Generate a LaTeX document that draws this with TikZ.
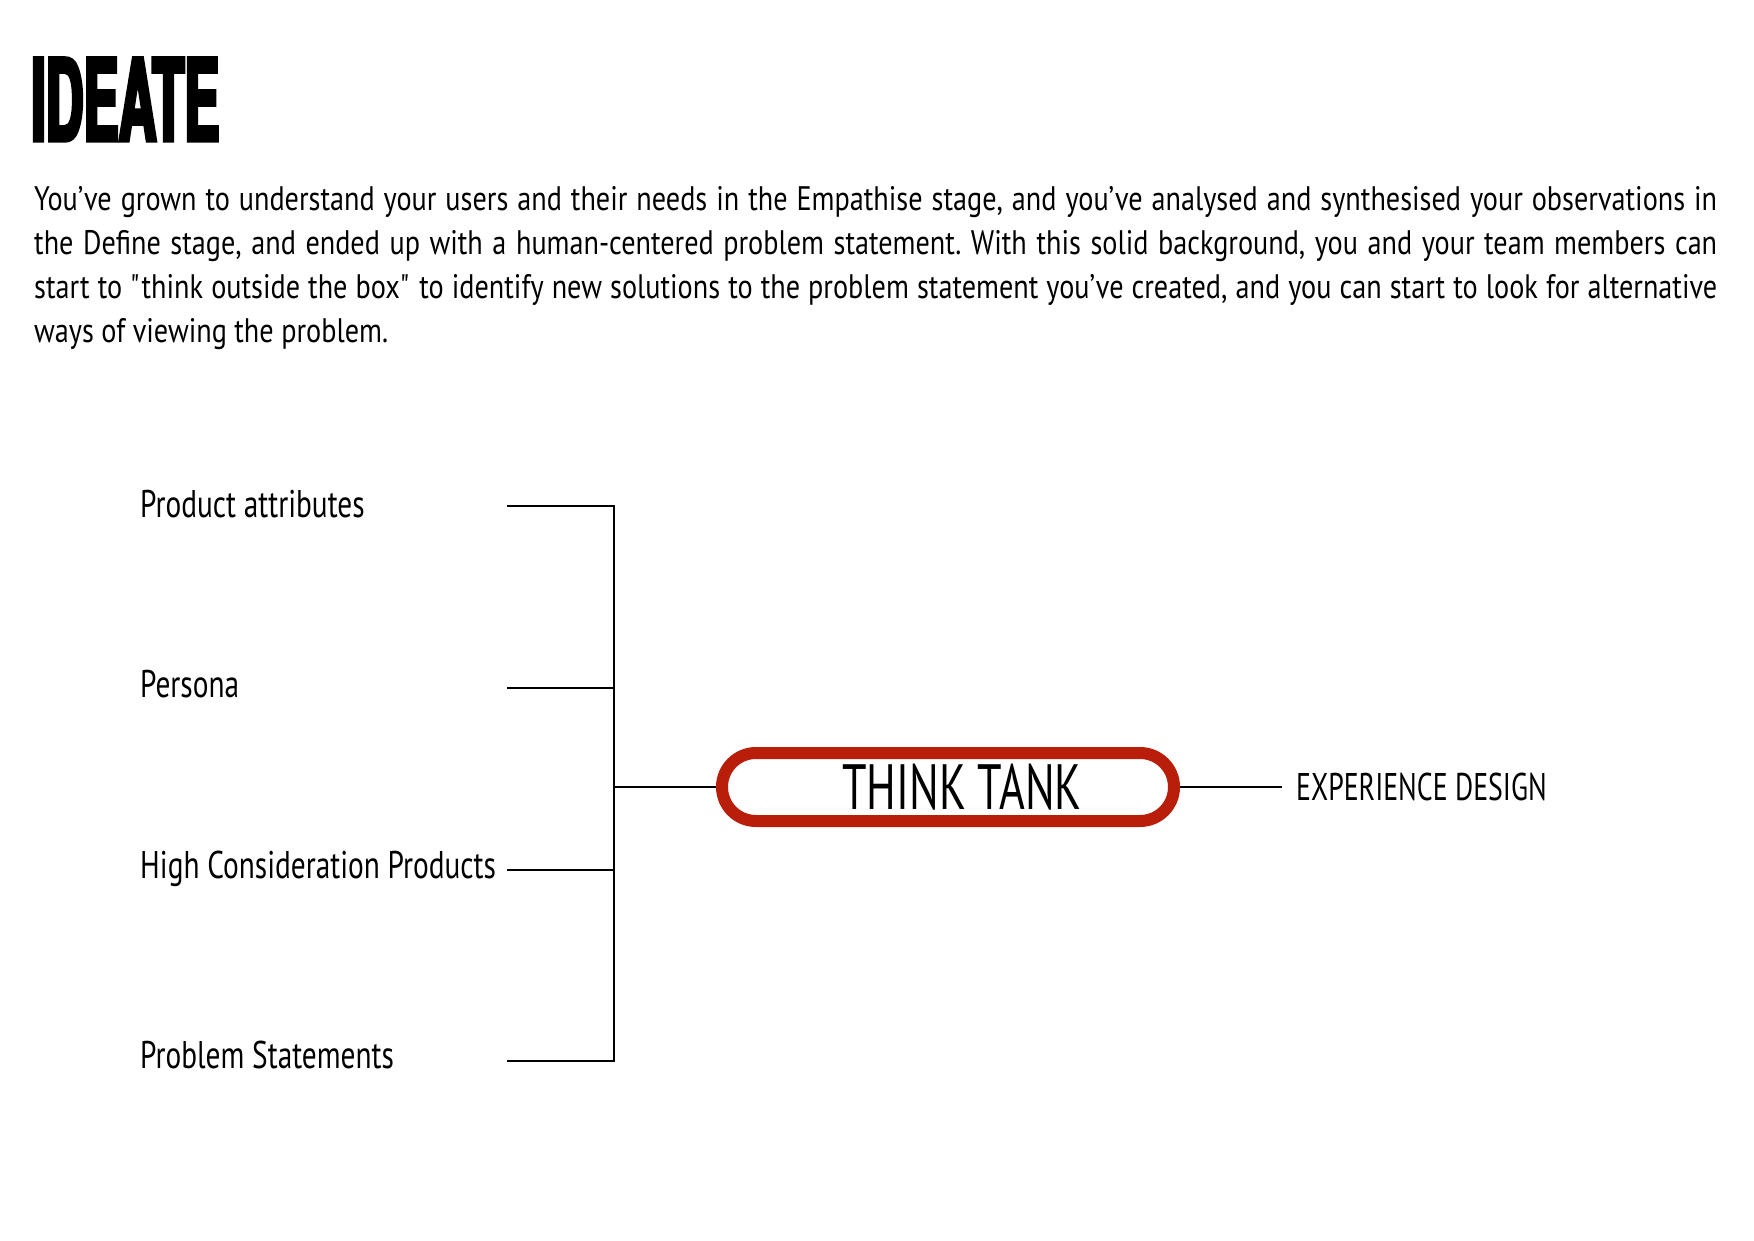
\documentclass[tikz,border=0pt]{standalone}
\usepackage{fontspec}
\setmainfont{PT Sans}[FakeStretch=0.76]
\newfontfamily\bodyfont{PT Sans}[FakeStretch=0.83]
\newfontfamily\tankfont{PT Sans}[FakeStretch=0.69]
\newfontfamily\xdfont{PT Sans}[FakeStretch=0.72]
\newfontfamily\titlefont{texgyreheros-bold.otf}[FakeStretch=0.46,FakeBold=3]
\definecolor{tankred}{RGB}{184,30,10}
\tikzset{
  lbl/.style={inner sep=0pt, anchor=base west, font=\fontsize{38.6}{40}\selectfont},
  wire/.style={draw=black, line width=1.8pt},
  tankbox/.style={draw=tankred, line width=12pt, rounded corners=34pt,
    minimum width=452pt, minimum height=68pt, inner sep=0pt,
    font=\tankfont\fontsize{64}{64}\selectfont}
}
\begin{document}
\begin{tikzpicture}[x=1pt,y=-1pt]
\fill[white] (0,0) rectangle (1754,1241);
\useasboundingbox (0,0) rectangle (1754,1241);

\node[inner sep=0pt, anchor=base west, font=\titlefont\fontsize{114}{114}\selectfont] (title) at (31,141) {IDEATE};

\node[inner sep=0pt, anchor=base west] (intro) at (34,211) {\parbox[t]{1683pt}{\bodyfont\fontsize{34}{44}\selectfont\frenchspacing\tolerance=10000\hyphenpenalty=10000
You’ve grown to understand your users and their needs in the Empathise stage, and you’ve analysed and synthesised your observations in\linebreak
the Define stage, and ended up with a human-centered problem statement. With this solid background, you and your team members can\linebreak
start to \textquotedbl think outside the box\textquotedbl\ to identify new solutions to the problem statement you’ve created, and you can start to look for alternative\linebreak
ways of viewing the problem.}};

\node[lbl] (pa) at (140,517) {Product attributes};
\node[lbl] (pe) at (140,697) {Persona};
\node[lbl] (hc) at (140,878) {High Consideration Products};
\node[lbl] (ps) at (140,1068) {Problem Statements};

\coordinate (pa-tip) at (507,506);
\coordinate (pe-tip) at (507,688);
\coordinate (hc-tip) at (507,870);
\coordinate (ps-tip) at (507,1061);
\coordinate (pa-j) at (614,506);
\coordinate (pe-j) at (614,688);
\coordinate (hc-j) at (614,870);
\coordinate (ps-j) at (614,1061);
\coordinate (mid-j) at (614,787);

\node[tankbox] (tank) at (948,787) {\hspace*{28pt}THINK TANK};
\node[lbl, font=\xdfont\fontsize{38.6}{40}\selectfont] (xd) at (1296,800) {EXPERIENCE DESIGN};
\coordinate (xd-tip) at (1282,787);

\draw[wire, line join=miter] (pa-tip) -- (pa-j) -- (ps-j) -- (ps-tip);
\draw[wire] (pe-tip) -- (pe-j);
\draw[wire] (hc-tip) -- (hc-j);
\draw[wire] (mid-j) -- (tank.west);
\draw[wire] (tank.east) -- (xd-tip);
\end{tikzpicture}
\end{document}
